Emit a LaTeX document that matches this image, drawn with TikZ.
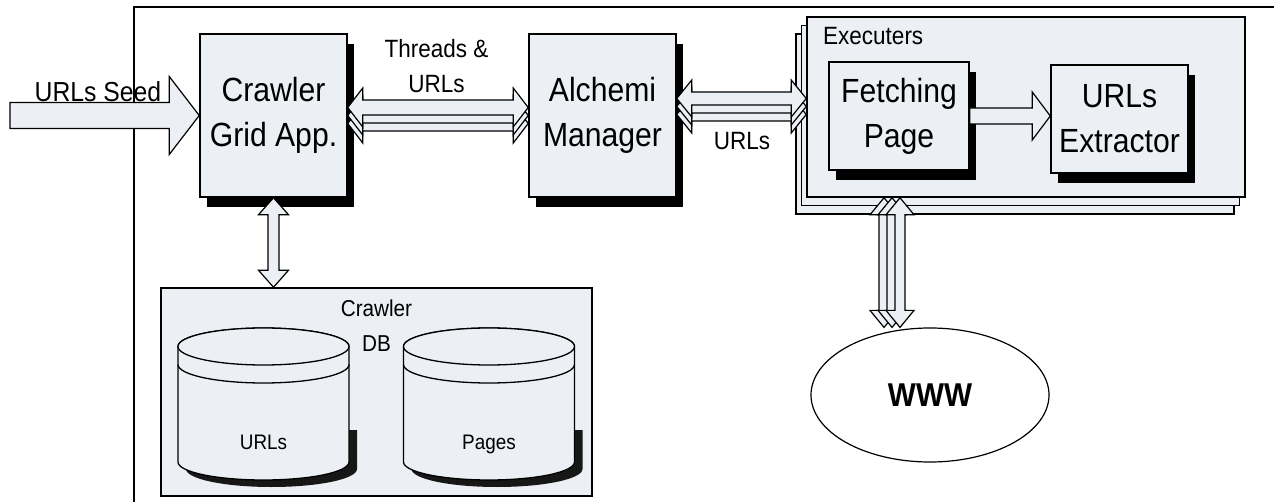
\documentclass[tikz,border=0pt]{standalone}
\usepackage{fontspec}
\setmainfont{Liberation Sans}[FakeStretch=0.9]
\usetikzlibrary{calc,shadows,shapes.geometric}
\definecolor{boxfill}{RGB}{236,239,244}

% database drum: name, centre x, text
\newcommand{\dbcyl}[3]{%
  \fill[black,opacity=.9] (#2-77.5,-430) -- (#2-77.5,-469) arc (180:360:85.5 and 18) -- (#2+93.5,-430) -- cycle;
  \filldraw[cyl] (#2-85.5,-346.5) -- (#2-85.5,-462) arc (180:360:85.5 and 18) -- (#2+85.5,-346.5) arc (0:180:85.5 and 18.5) -- cycle;
  \draw[cyl] (#2,-346.5) ellipse (85.5 and 18.5);
  \draw[line width=1.3pt] (#2-85.5,-364.5) arc (180:360:85.5 and 18.5);
  \node[lbl, font=\fontsize{21}{25}\selectfont, anchor=base] (#1) at (#2,-449) {#3};
}

\tikzset{
  fatline/.style={draw=black, fill=boxfill, line width=1.2pt, line join=miter},
  dblarrow/.style n args={3}{fatline, to path={let \p1=(\tikztostart), \p2=(\tikztotarget),
      \n1={atan2(\y2-\y1,\x2-\x1)}, \n2={veclen(\x2-\x1,\y2-\y1)} in
      {[shift={(\p1)}, rotate=\n1]
        (0,0) -- (#3,#2) -- (#3,#1) -- (\n2-#3,#1) -- (\n2-#3,#2) -- (\n2,0)
        -- (\n2-#3,-#2) -- (\n2-#3,-#1) -- (#3,-#1) -- (#3,-#2) -- cycle}}},
  sglarrow/.style n args={3}{fatline, to path={let \p1=(\tikztostart), \p2=(\tikztotarget),
      \n1={atan2(\y2-\y1,\x2-\x1)}, \n2={veclen(\x2-\x1,\y2-\y1)} in
      {[shift={(\p1)}, rotate=\n1]
        (0,#1) -- (\n2-#3,#1) -- (\n2-#3,#2) -- (\n2,0)
        -- (\n2-#3,-#2) -- (\n2-#3,-#1) -- (0,-#1) -- cycle}}},
  mainbox/.style={draw, fill=boxfill, line width=1.5pt, inner sep=0pt, align=center,
      font=\fontsize{33.5}{45}\selectfont},
  shadowed/.style={drop shadow={shadow xshift=7pt, shadow yshift=-10pt, opacity=1, fill=black}},
  lbl/.style={inner sep=0pt, align=center, font=\fontsize{25}{35}\selectfont},
  cyl/.style={draw, fill=boxfill, line width=1.3pt},
}

\begin{document}
\begin{tikzpicture}[x=1pt, y=1pt]
  \useasboundingbox (0,0) rectangle (1274,-502);
  % frame
  \draw[line width=1.5pt] (134,-502) -- (134,-7) -- (1274,-7);

  \node[mainbox, shadowed, minimum width=147pt, minimum height=163pt] (crawler) at (273.5,-115.5) {Crawler\\Grid App.};
  \node[mainbox, shadowed, minimum width=147pt, minimum height=163pt] (alchemi) at (602.5,-115.5) {Alchemi\\Manager};

  \node[draw, fill=boxfill, line width=1.5pt, minimum width=438pt, minimum height=180pt,
        copy shadow={shadow xshift=-11pt, shadow yshift=-17pt, fill=boxfill, draw=black, line width=1.5pt},
        copy shadow={shadow xshift=-5.5pt, shadow yshift=-8.5pt, fill=boxfill, draw=black, line width=1.5pt}]
        (exec) at (1026,-107) {};
  \node[lbl, anchor=base west] (execlbl) at (823,-45) {Executers};
  \node[mainbox, shadowed, minimum width=140pt, minimum height=108pt] (fetch) at (899,-116) {Fetching\\Page};
  \node[mainbox, shadowed, minimum width=137pt, minimum height=108pt] (extr) at (1119.5,-119) {URLs\\Extractor};

  \node[draw, fill=boxfill, line width=1.5pt, minimum width=431pt, minimum height=208pt] (db) at (376.5,-392) {};
  \dbcyl{urls}{263.5}{URLs}
  \dbcyl{pages}{489}{Pages}
  \node[lbl, font=\fontsize{23}{35}\selectfont, anchor=north] (dblbl) at (376.5,-299.5) {Crawler\\DB};

  \node[draw, ellipse, line width=1.2pt, minimum width=238pt, minimum height=134pt, inner sep=0pt,
        font=\bfseries\fontsize{33}{38}\selectfont] (www) at (930,-395) {WWW};

  % arrows
  \coordinate (seed) at (10,-115.5);
  \draw[sglarrow={13}{39}{30}] (seed) to (crawler.west);
  \node[lbl, font=\fontsize{27.5}{30}\selectfont, anchor=base] (seedlbl) at (98,-102) {URLs Seed};

  \foreach \s/\k in {-8/c,0/b,8/a}{
    \coordinate (th\k) at ([yshift=\s pt]crawler.east);
    \draw[dblarrow={7.5}{19.5}{15}] (th\k) to (th\k -| alchemi.west);
  }
  \node[lbl, anchor=north] (thlbl) at (436.5,-39.5) {Threads \&\\URLs};

  \foreach \s/\k in {1/c,9/b,17/a}{
    \coordinate (ex\k) at ([yshift=\s pt]alchemi.east);
    \draw[dblarrow={6.5}{18.5}{15}] (ex\k) to (ex\k -| exec.west);
  }
  \node[lbl, anchor=base] (exlbl) at (742,-150) {URLs};

  \draw[sglarrow={8}{24}{18}] (fetch.east) to (fetch.east -| extr.west);
  \draw[dblarrow={5.5}{15}{17}] (crawler.south) to (crawler.south |- db.north);

  \foreach \s/\k in {-142/c,-134/b,-126/a}{
    \coordinate (ww\k) at ([xshift=\s pt]exec.south);
    \draw[dblarrow={5}{14}{17}] (ww\k) to (ww\k |- www.north);
  }
\end{tikzpicture}
\end{document}
